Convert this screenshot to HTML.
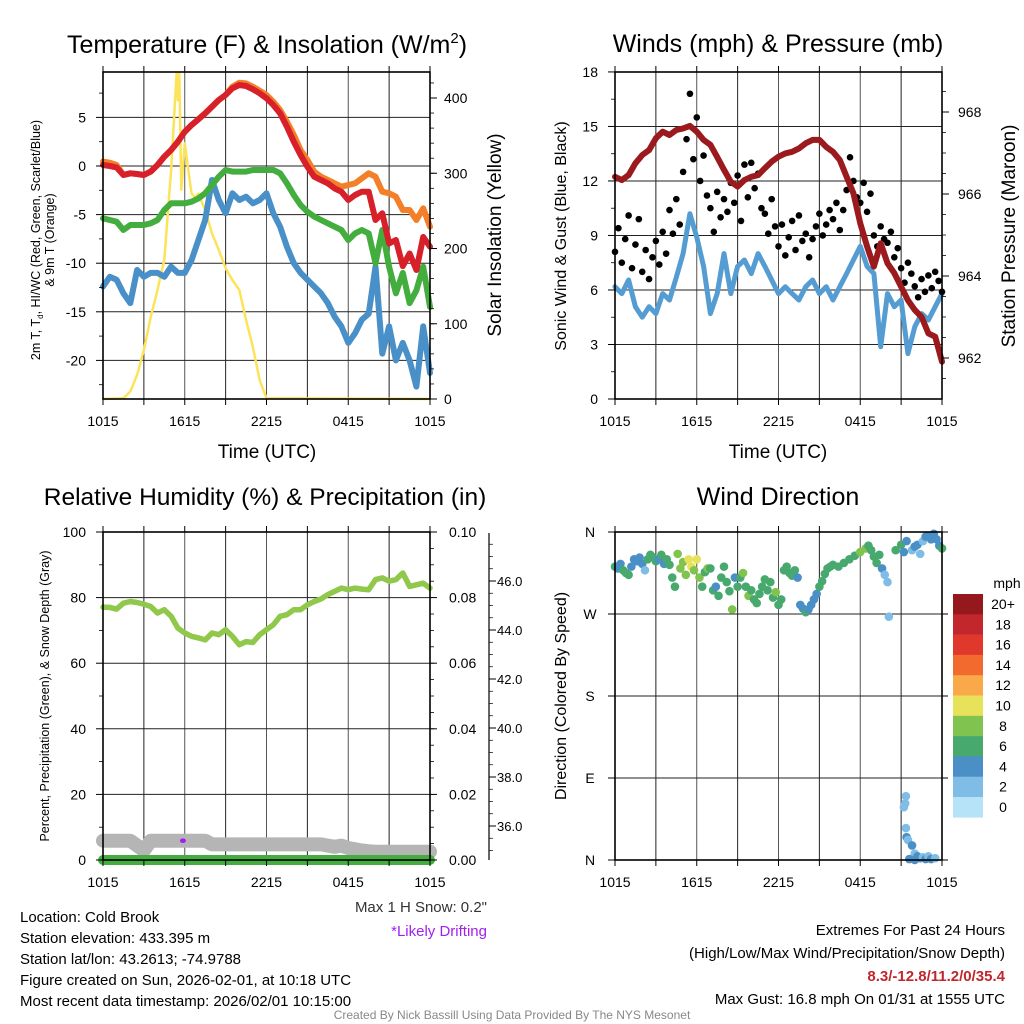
<!DOCTYPE html>
<html><head><meta charset="utf-8"><title>Mesonet Station Chart</title>
<style>
html,body{margin:0;padding:0;background:#fff;}
svg{display:block;font-family:"Liberation Sans",Arial,sans-serif;}
</style></head>
<body>
<svg id="chart" width="1024" height="1024" viewBox="0 0 1024 1024" xmlns="http://www.w3.org/2000/svg">
<rect width="1024" height="1024" fill="#fff"/>
<g id="grids"></g>
<g id="series"></g>
<g id="frames"></g>
<g id="labels" fill="#000">
  <text x="267" y="53" font-size="25" text-anchor="middle">Temperature (F) &amp; Insolation (W/m<tspan font-size="15" dy="-10">2</tspan><tspan dy="10">)</tspan></text>
  <text x="778" y="52" font-size="25" text-anchor="middle">Winds (mph) &amp; Pressure (mb)</text>
  <text x="265" y="505" font-size="24.5" text-anchor="middle">Relative Humidity (%) &amp; Precipitation (in)</text>
  <text x="778" y="505" font-size="25" text-anchor="middle">Wind Direction</text>

  <text x="267" y="458" font-size="19" text-anchor="middle">Time (UTC)</text>
  <text x="778" y="458" font-size="19" text-anchor="middle">Time (UTC)</text>

  <text transform="translate(40,240) rotate(-90)" font-size="12.5" text-anchor="middle">2m T, T<tspan font-size="8" dy="3">d</tspan><tspan dy="-3">, HI/WC (Red, Green, Scarlet/Blue)</tspan></text>
  <text transform="translate(54,240) rotate(-90)" font-size="12.5" text-anchor="middle">&amp; 9m T (Orange)</text>
  <text transform="translate(501,235) rotate(-90)" font-size="19" text-anchor="middle">Solar Insolation (Yellow)</text>
  <text transform="translate(566,236) rotate(-90)" font-size="16" text-anchor="middle">Sonic Wind &amp; Gust (Blue, Black)</text>
  <text transform="translate(1015,236) rotate(-90)" font-size="19" text-anchor="middle">Station Pressure (Maroon)</text>
  <text transform="translate(49,696) rotate(-90)" font-size="12.5" text-anchor="middle">Percent, Precipitation (Green), &amp; Snow Depth (Gray)</text>
  <text transform="translate(566,696) rotate(-90)" font-size="16" text-anchor="middle">Direction (Colored By Speed)</text>

  <text x="487" y="912" font-size="15" text-anchor="end" fill="#333">Max 1 H Snow: 0.2"</text>
  <text x="487" y="936" font-size="15" text-anchor="end" fill="#a020f0">*Likely Drifting</text>

  <g font-size="15">
    <text x="20" y="922">Location: Cold Brook</text>
    <text x="20" y="943">Station elevation: 433.395 m</text>
    <text x="20" y="964">Station lat/lon: 43.2613; -74.9788</text>
    <text x="20" y="985">Figure created on Sun, 2026-02-01, at 10:18 UTC</text>
    <text x="20" y="1006">Most recent data timestamp: 2026/02/01 10:15:00</text>
  </g>
  <g font-size="15" text-anchor="end">
    <text x="1005" y="935">Extremes For Past 24 Hours</text>
    <text x="1005" y="958">(High/Low/Max Wind/Precipitation/Snow Depth)</text>
    <text x="1005" y="981" font-weight="bold" fill="#c0272d">8.3/-12.8/11.2/0/35.4</text>
    <text x="1005" y="1004">Max Gust: 16.8 mph On 01/31 at 1555 UTC</text>
  </g>
  <text x="512" y="1019" font-size="12" text-anchor="middle" fill="#888">Created By Nick Bassill Using Data Provided By The NYS Mesonet</text>
</g>
</svg>
<script>
// ---------- DATA ----------
const halfHours = [0,0.5,1,1.5,2,2.5,3,3.5,4,4.5,5,5.5,6,6.5,7,7.5,8,8.5,9,9.5,10,10.5,11,11.5,12,12.5,13,13.5,14,14.5,15,15.5,16,16.5,17,17.5,18,18.5,19,19.5,20,20.5,21,21.5,22,22.5,23,23.5,24];
const timeTickLabels = ["1015","1615","2215","0415","1015"];
const timeTickHours = [0,6,12,18,24];

const temp2m = [0.1,0,-0.14,-0.93,-0.75,-0.82,-0.93,-0.58,0.1,0.96,1.65,2.5,3.53,4.22,4.8,5.42,6.1,6.79,7.3,7.99,8.33,8.23,7.89,7.48,6.96,6.28,5.42,4.05,2.5,1.13,-0.07,-1.1,-1.44,-1.78,-2.3,-2.64,-3.5,-2.98,-2.64,-2.64,-5.56,-4.87,-7.96,-7.61,-10.3,-9.0,-10.7,-7.3,-8.3];
const temp9m = [0.45,0.34,0.1,-0.93,-0.75,-0.82,-0.93,-0.58,0.1,0.96,1.65,2.5,3.53,4.22,4.8,5.42,6.1,6.79,7.3,8.16,8.57,8.5,8.16,7.75,7.3,6.62,5.76,4.56,3.19,1.65,0.62,-0.58,-1.1,-1.44,-1.78,-2.13,-1.95,-1.78,-1.27,-0.75,-1.1,-2.64,-2.81,-3.16,-4.53,-4.53,-5.56,-4.36,-6.24];
const dewpoint = [-5.38,-5.56,-5.73,-6.58,-6.07,-6.07,-6.07,-5.9,-5.56,-4.53,-3.84,-3.84,-3.84,-3.67,-3.33,-2.81,-1.95,-1.1,-0.41,-0.58,-0.58,-0.58,-0.41,-0.41,-0.41,-0.41,-0.75,-1.78,-2.98,-4.01,-4.7,-5.21,-5.56,-5.9,-6.24,-6.58,-7.61,-6.93,-6.58,-6.93,-10.0,-6.58,-10.36,-13.1,-11.0,-14.1,-12.8,-10.36,-14.5];
const windChill = [-12.4,-11.4,-11.7,-13.1,-14.1,-10.7,-11.4,-11.0,-11.0,-11.4,-10.36,-11.0,-11.0,-9.67,-7.61,-5.56,-1.44,-3.5,-4.87,-2.81,-3.5,-3.16,-3.84,-3.5,-2.81,-4.87,-6.24,-8.3,-10.0,-11.0,-11.7,-12.4,-13.1,-14.1,-15.5,-16.5,-18.2,-17.2,-15.8,-15.2,-10.36,-19.3,-16.5,-20.0,-18.2,-20.0,-22.7,-16.5,-21.3];
const tempTicks = [5,0,-5,-10,-15,-20];

const solarHours = [0,1.5,2,2.5,3,3.5,4,4.5,5,5.25,5.4,5.5,5.6,5.75,6,6.25,6.5,6.75,7,7.5,8,8.25,8.5,9,9.5,10,10.5,11,11.5,12,24];
const solarValues = [0,1,10,32,65,109,145,185,304,384,433,397,433,278,340,305,273,268,273,251,220,209,198,174,158,145,105,69,25,1,0];
const solarTicks = [0,100,200,300,400];

const sonicWind = [6.18,5.8,6.55,5.08,4.5,5.08,4.7,5.8,5.45,6.7,8.0,10.2,8.9,7.3,4.7,5.8,8.0,5.8,7.3,7.65,6.9,8.0,7.3,6.55,5.8,6.18,5.8,5.45,6.18,6.55,5.8,6.18,5.45,6.18,6.9,7.65,8.4,7.3,6.9,2.88,5.8,5.08,5.45,2.5,3.98,4.7,4.35,5.08,5.8];
const gustValues = [8.1,9.4,7.5,8.8,10.1,7.2,8.5,9.9,7.0,8.2,6.6,7.8,8.7,7.4,9.2,8.0,10.4,9.1,11.0,9.6,12.5,14.3,16.8,13.2,15.5,12.0,13.4,11.2,10.5,9.2,11.4,10.0,11.0,10.3,11.9,10.8,12.3,9.8,12.9,11.1,13.0,11.6,12.4,10.5,10.2,9.1,11.0,9.5,8.4,9.6,7.9,8.9,9.8,8.2,10.1,8.7,9.1,7.8,8.8,9.5,10.2,9.0,9.6,10.4,9.9,10.8,9.3,10.4,11.5,13.3,12.0,11.1,10.8,11.9,10.3,11.3,9.0,8.4,9.5,8.8,8.6,9.2,7.8,8.3,7.2,6.4,7.5,6.9,6.2,5.6,6.6,5.9,6.8,6.1,7.0,6.5,5.9];
const pressure = [966.42,966.34,966.46,966.75,966.95,967.07,967.36,967.52,967.44,967.56,967.6,967.66,967.52,967.32,967.2,966.9,966.59,966.3,966.18,966.34,966.42,966.46,966.63,966.79,966.91,966.99,967.03,967.11,967.24,967.32,967.32,967.15,967.03,966.83,966.42,966.02,965.28,964.72,964.23,964.8,964.31,964.07,963.74,963.41,963.17,963.0,962.6,962.52,961.91];
const windTicks = [0,3,6,9,12,15,18];
const pressureTicks = [962,964,966,968];

const relHumidity = [77.1,77,76.5,78.3,78.8,78.5,78,77.3,75.3,76.3,74.3,70.7,69.2,68.2,67.7,67.1,69.2,68.7,70.2,68.2,65.6,66.6,66.3,68.7,70.2,71.7,74.3,74.8,76.3,76.3,77.8,78.8,79.6,80.9,81.9,82.9,82.4,82.9,82.6,82.4,85.5,86,85,85.5,87.5,83.4,83.9,84.4,82.9];
const snowDepth = [35.4,35.4,35.4,35.4,35.4,35.2,35.0,35.4,35.4,35.4,35.4,35.4,35.4,35.4,35.4,35.4,35.25,35.25,35.25,35.25,35.25,35.25,35.25,35.25,35.25,35.25,35.25,35.25,35.25,35.25,35.25,35.25,35.25,35.2,35.15,35.2,35.1,35.05,35.0,34.97,34.95,34.95,34.95,34.95,34.95,34.95,34.95,34.95,34.95];
const precip = [0,0,0,0,0,0,0,0,0,0,0,0,0,0,0,0,0,0,0,0,0,0,0,0,0,0,0,0,0,0,0,0,0,0,0,0,0,0,0,0,0,0,0,0,0,0,0,0,0];
const driftHours = [5.87];
const driftDepth = [35.4];
const rhTicks = [0,20,40,60,80,100];
const precipTicks = ["0.00","0.02","0.04","0.06","0.08","0.10"];
const snowTicks = [36,38,40,42,44,46];

const dirHours = [0,0.2,0.4,0.6,0.8,1.0,1.2,1.4,1.6,1.8,2.0,2.2,2.4,2.6,2.8,3.0,3.2,3.4,3.6,3.8,4.0,4.2,4.4,4.6,4.8,5.0,5.2,5.4,5.6,5.8,6.0,6.2,6.4,6.6,6.8,7.0,7.2,7.4,7.6,7.8,8.0,8.2,8.4,8.6,8.8,9.0,9.2,9.4,9.6,9.8,10.0,10.2,10.4,10.6,10.8,11.0,11.2,11.4,11.6,11.8,12.0,12.2,12.4,12.6,12.8,13.0,13.2,13.4,13.6,13.8,14.0,14.2,14.4,14.6,14.8,15.0,15.2,15.4,15.6,15.8,16.0,16.4,16.8,17.2,17.6,18.0,18.4,18.6,18.8,19.0,19.2,19.4,19.6,19.8,20.0,20.1,20.6,21.0,21.2,21.4,21.8,22.0,22.2,22.4,22.6,22.8,23.0,23.2,23.4,23.6,23.8,24.0,21.2,21.35,21.3,21.35,21.4,21.5,21.8,22.0,22.2,22.4,22.6,22.8,23.0,23.2,22.0,23.5,21.6];
const dirDegrees = [322,320,325,318,315,313,322,330,328,332,325,318,330,335,332,328,330,335,325,330,324,310,300,336,320,327,313,330,322,318,330,310,300,316,320,320,296,300,290,310,322,305,295,275,310,300,310,315,300,290,296,286,282,292,300,308,296,305,288,294,280,286,318,322,315,312,318,310,280,276,272,275,280,286,292,300,306,314,320,322,324,322,326,330,334,338,342,345,340,333,326,335,320,313,305,267,340,346,338,350,340,344,346,336,350,355,356,352,358,352,345,342,58,70,62,35,25,22,16,7,4,2,3,1,4,1,0,2,1];
const dirSpeeds = [6,5,4,6,6,6,5,4,4,4,4,3,7,6,6,6,5,6,4,6,7,6,6,8,8,9,8,10,10,8,10,8,7,6,8,6,7,5,7,6,6,6,6,8,5,6,7,8,7,8,6,7,6,6,6,6,7,6,7,8,6,7,6,6,7,6,6,4,4,4,6,4,4,4,5,6,6,6,6,6,6,6,6,6,7,8,8,7,6,6,6,6,4,2,2,2,6,6,4,4,2,4,4,2,2,4,4,4,4,4,4,6,2,2,2,2,4,2,4,2,4,4,2,4,2,4,4,2,4];
const dirTickLabels = ["N","E","S","W","N"];
const dirTickDegrees = [0,90,180,270,360];
const speedBinLabels = ["20+","18","16","14","12","10","8","6","4","2","0"];
const speedBinColors = ["#95191c","#c1272d","#e0392b","#f26a2e","#f9a94a","#e8e15a","#80c34e","#48a96f","#4a8fc6","#7fbde6","#b6e3f8"];

// ---------- HELPERS ----------
const NS = "http://www.w3.org/2000/svg";
const G = id => document.getElementById(id);
function mk(tag, attrs, parent){ const e=document.createElementNS(NS,tag); for(const k in attrs) e.setAttribute(k,attrs[k]); parent.appendChild(e); return e; }

const P1={x0:103,x1:430,y0:72,y1:399};
const P2={x0:615,x1:942,y0:72,y1:399};
const P3={x0:103,x1:430,y0:532,y1:860};
const P4={x0:615,x1:942,y0:532,y1:860};
const xOf=(p,h)=>p.x0+h*(p.x1-p.x0)/24;
const yTemp=t=>166-t*9.72;
const ySolar=v=>399-v*0.7525;
const yWind=m=>399-m*18.17;
const yPres=p=>358-(p-962)*41;
const yRH=r=>860-r*3.28;
const yPrecip=p=>860-p*3280;
const ySnow=d=>826-(d-36)*24.5;
const yDir=d=>860-d*328/360;

function pathFrom(p,hours,vals,yf){ return hours.map((h,i)=>(i?"L":"M")+xOf(p,h).toFixed(1)+","+yf(vals[i]).toFixed(1)).join(""); }

const grids=G("grids"), series=G("series"), frames=G("frames"), labels=G("labels");

function gridPanel(p, name, yvals, yf){
  const g=mk("g",{},grids);
  
  
  for(let h=3;h<24;h+=3){ const x=xOf(p,h); mk("line",{x1:x,x2:x,y1:p.y0,y2:p.y1,stroke:(h%6===0)?"#555":"#222","stroke-width":1},g); }
  yvals.forEach(v=>{ const y=yf(v); if(y>p.y0+1&&y<p.y1-1) mk("line",{x1:p.x0,x2:p.x1,y1:y,y2:y,stroke:"#222","stroke-width":1},g); });
}
function framePanel(p,name){
  const g=mk("g",{},frames);
  
  
  mk("rect",{x:p.x0,y:p.y0,width:p.x1-p.x0,height:p.y1-p.y0,fill:"none",stroke:"#000","stroke-width":1.6},g);
  for(let h=0;h<=24;h+=3){ const x=xOf(p,h); mk("line",{x1:x,x2:x,y1:p.y1,y2:p.y1+6,stroke:"#000","stroke-width":1},g); mk("line",{x1:x,x2:x,y1:p.y0,y2:p.y0-6,stroke:"#000","stroke-width":1},g);}
  timeTickHours.forEach((h,i)=>{ const t=mk("text",{x:xOf(p,h),y:p.y1+27,"font-size":14,"text-anchor":"middle"},labels); t.textContent=timeTickLabels[i];
    
     });
}
function leftTicks(p,name,vals,yf,texts,lx){
  vals.forEach((v,i)=>{ const y=yf(v); mk("line",{x1:p.x0-7,x2:p.x0,y1:y,y2:y,stroke:"#000","stroke-width":1},frames);
    const t=mk("text",{x:lx,y:y+5,"font-size":14,"text-anchor":"end"},labels); t.textContent=texts?texts[i]:String(v);
    
     });
}
function rightTicks(p,name,vals,yf,texts,lx){
  vals.forEach((v,i)=>{ const y=yf(v); mk("line",{x1:p.x1,x2:p.x1+7,y1:y,y2:y,stroke:"#000","stroke-width":1},frames);
    const t=mk("text",{x:lx,y:y+5,"font-size":14,"text-anchor":"start"},labels); t.textContent=texts?texts[i]:String(v);
    
     });
}
function minorRight(p,from,to,step,yf){ for(let v=from;v<=to+1e-9;v+=step){ const y=yf(v); if(y>=p.y0&&y<=p.y1) mk("line",{x1:p.x1,x2:p.x1+4,y1:y,y2:y,stroke:"#000","stroke-width":0.8},frames);} }
function minorLeft(p,from,to,step,yf){ for(let v=from;v<=to+1e-9;v+=step){ const y=yf(v); if(y>=p.y0&&y<=p.y1) mk("line",{x1:p.x0-4,x2:p.x0,y1:y,y2:y,stroke:"#000","stroke-width":0.8},frames);} }
function line(p,name,hours,vals,yf,color,w){
  const e=mk("path",{d:pathFrom(p,hours,vals,yf),fill:"none",stroke:color,"stroke-width":w,"stroke-linejoin":"round","stroke-linecap":"round"},series);
  
  
}

// ---------- PANEL 1 ----------
gridPanel(P1,"temp",tempTicks,yTemp);
line(P1,"solar-insolation-line",solarHours,solarValues,ySolar,"#fde35a",2.5);
line(P1,"wind-chill-line",halfHours,windChill,yTemp,"#4a90c8",6);
line(P1,"dewpoint-line",halfHours,dewpoint,yTemp,"#43ad3e",6);
line(P1,"temp-9m-line",halfHours,temp9m,yTemp,"#f47f29",6);
line(P1,"temp-2m-line",halfHours,temp2m,yTemp,"#d7202a",6);
framePanel(P1,"temp");
leftTicks(P1,"temp",tempTicks,yTemp,null,86);
minorLeft(P1,-22.5,7.5,5,yTemp);
rightTicks(P1,"solar",solarTicks,ySolar,null,444);
minorRight(P1,0,430,20,ySolar);

// ---------- PANEL 2 ----------
gridPanel(P2,"wind",windTicks,yWind);
line(P2,"sonic-wind-line",halfHours,sonicWind,yWind,"#559cd3",5);
gustValues.forEach((g,i)=>{
  const c=mk("circle",{cx:xOf(P2,i*0.25),cy:yWind(g),r:3.3,fill:"#000"},series);
  
  
});
line(P2,"pressure-line",halfHours,pressure,yPres,"#9b1a1d",6);
framePanel(P2,"wind");
leftTicks(P2,"wind",windTicks,yWind,null,598);
minorLeft(P2,1.5,16.5,3,yWind);
rightTicks(P2,"pressure",pressureTicks,yPres,null,958);
minorRight(P2,961.5,968.5,0.5,yPres);

// ---------- PANEL 3 ----------
gridPanel(P3,"rh",rhTicks,yRH);
line(P3,"snow-depth-line",halfHours,snowDepth,ySnow,"#b5b5b5",14);
line(P3,"precip-line",halfHours,precip,yPrecip,"#44ad3f",10);
line(P3,"rh-line",halfHours,relHumidity,yRH,"#8fc84a",5.5);
driftHours.forEach((h,i)=>{
  const c=mk("ellipse",{cx:xOf(P3,h),cy:ySnow(driftDepth[i]),rx:3,ry:2.3,fill:"#a020f0"},series);
  
  
});
framePanel(P3,"rh");
leftTicks(P3,"rh",rhTicks,yRH,null,86);
minorLeft(P3,10,90,20,yRH);
rightTicks(P3,"precip",rhTicks,yRH,precipTicks,449);
minorRight(P3,0,100,5,yRH);
(function(){
  const ax=489;
  mk("line",{x1:ax,x2:ax,y1:533,y2:860,stroke:"#000","stroke-width":1.2},frames);
  snowTicks.forEach(v=>{ const y=ySnow(v); mk("line",{x1:ax,x2:ax+7,y1:y,y2:y,stroke:"#000","stroke-width":1},frames);
    const t=mk("text",{x:497,y:y+5,"font-size":13,"text-anchor":"start"},labels); t.textContent=v.toFixed(1);
    
     });
  for(let v=35;v<=47.5;v+=0.5){ const y=ySnow(v); if(y>=534&&y<=858) mk("line",{x1:ax,x2:ax+4,y1:y,y2:y,stroke:"#000","stroke-width":0.7},frames); }
})();

// ---------- PANEL 4 ----------
gridPanel(P4,"dir",dirTickDegrees,yDir);
dirHours.forEach((h,i)=>{
  const bin=Math.min(10,Math.floor(dirSpeeds[i]/2));
  const c=mk("circle",{cx:xOf(P4,h),cy:yDir(dirDegrees[i]),r:4.3,fill:speedBinColors[10-bin]},series);
  
  
});
framePanel(P4,"dir");
dirTickDegrees.forEach((d,i)=>{ const y=yDir(d); mk("line",{x1:P4.x0-7,x2:P4.x0,y1:y,y2:y,stroke:"#000","stroke-width":1},frames);
  mk("line",{x1:P4.x1,x2:P4.x1+6,y1:y,y2:y,stroke:"#000","stroke-width":1},frames);
  const t=mk("text",{x:590,y:y+5,"font-size":14,"text-anchor":"middle"},labels); t.textContent=dirTickLabels[i];
  
   });
(function(){
  const g=mk("g",{},series);
  
  
  const t0=mk("text",{x:1007,y:588,"font-size":14,"text-anchor":"middle"},labels); t0.textContent="mph";
  
  
  speedBinLabels.forEach((lab,i)=>{
    const y=594+i*20.3;
    mk("rect",{x:953,y:y,width:30,height:20.6,fill:speedBinColors[i]},g);
    const t=mk("text",{x:1003,y:y+15,"font-size":14,"text-anchor":"middle"},labels); t.textContent=lab;
    
    
  });
})();
</script>
</body></html>
